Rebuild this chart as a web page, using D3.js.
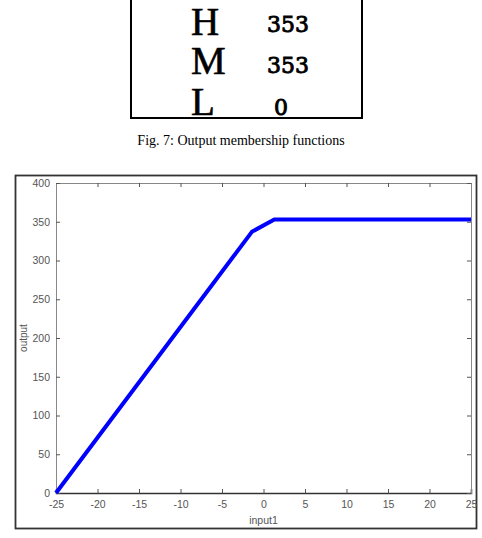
<!DOCTYPE html>
<html>
<head>
<meta charset="utf-8">
<script src="https://cdn.jsdelivr.net/npm/d3@7"></script>
<style>
  body { margin: 0; background: #fff; }
  svg { display: block; }
</style>
</head>
<body>
<div id="chart"></div>
<script>
// membership table (top)
var rules = ['H', 'M', 'L'];
var ruleValues = ['353', '353', '0'];

// curve input1 -> output
var inputVals = [-25, -1.4, 1.3, 25];
var outputVals = [0, 337, 353, 353];

var xTicks = [-25, -20, -15, -10, -5, 0, 5, 10, 15, 20, 25];
var yTicks = [0, 50, 100, 150, 200, 250, 300, 350, 400];

var width = 482, height = 538;
var margin = ({top: 183, right: 11, bottom: 45, left: 56});

var svg = d3.select("#chart")
    .append("svg")
    .attr("width", width)
    .attr("height", height);

// table box
svg.append("rect")
    .attr("x", 131).attr("y", -5)
    .attr("width", 231).attr("height", 123)
    .attr("fill", "none")
    .attr("stroke", "#000")
    .attr("stroke-width", 2);

var rowY = [35, 74, 115];
svg.selectAll(".ruleName")
    .data(rules)
    .enter()
    .append("text")
    .attr("x", 191)
    .attr("y", (d, i) => rowY[i])
    .attr("font-family", "Liberation Serif, Times New Roman, serif")
    .attr("font-size", 39)
    .attr("stroke", "#000")
    .attr("stroke-width", 0.6)
    .text(d => d)
    .classed("ruleName", true);

var valX = [288, 288, 281];
var valY = [32, 73, 115];
svg.selectAll(".ruleVal")
    .data(ruleValues)
    .enter()
    .append("text")
    .attr("x", (d, i) => valX[i])
    .attr("y", (d, i) => valY[i])
    .attr("text-anchor", "middle")
    .attr("font-family", "DejaVu Serif, serif")
    .attr("font-size", 22)
    .attr("stroke", "#000")
    .attr("stroke-width", 0.9)
    .text(d => d)
    .classed("ruleVal", true);

svg.append("text")
    .attr("x", 241)
    .attr("y", 145)
    .attr("text-anchor", "middle")
    .attr("font-family", "Liberation Serif, Times New Roman, serif")
    .attr("font-size", 14)
    .text("Fig. 7: Output membership functions");

// figure frame
svg.append("rect")
    .attr("x", 15.5).attr("y", 175.5)
    .attr("width", 461).attr("height", 353)
    .attr("fill", "none")
    .attr("stroke", "#333")
    .attr("stroke-width", 1.8);

var plotW = width - margin.left - margin.right;
var plotH = 493 - margin.top;

var xScale = d3.scaleLinear().domain([-25, 25]).range([0, plotW]);
var yScale = d3.scaleLinear().domain([0, 400]).range([plotH, 0]);

var plot = svg.append("g")
    .attr("transform", "translate(" + margin.left + "," + margin.top + ")");

// ticks pointing inward on all sides, like matlab
var axFont = "Liberation Sans, Arial, sans-serif";

plot.append("g")
    .attr("transform", "translate(0," + plotH + ")")
    .call(d3.axisBottom(xScale).tickValues(xTicks).tickSize(-4).tickPadding(8).tickFormat(d => String(d)))
    .call(g => g.select(".domain").attr("stroke", "#333").attr("stroke-width", 1.5))
    .attr("font-family", axFont)
    .attr("font-size", 10.5)
    .attr("color", "#555");

plot.append("g")
    .call(d3.axisTop(xScale).tickValues(xTicks).tickSize(-4).tickFormat(""))
    .call(g => g.select(".domain").attr("stroke", "#888"))
    .attr("color", "#555");

plot.append("g")
    .call(d3.axisLeft(yScale).tickValues(yTicks).tickSize(-4).tickPadding(6).tickFormat(d => String(d)))
    .call(g => g.select(".domain").attr("stroke", "#888"))
    .attr("font-family", axFont)
    .attr("font-size", 10.5)
    .attr("color", "#555");

plot.append("g")
    .attr("transform", "translate(" + plotW + ",0)")
    .call(d3.axisRight(yScale).tickValues(yTicks).tickSize(-4).tickFormat(""))
    .call(g => g.select(".domain").attr("stroke", "#888"))
    .attr("color", "#555");

plot.append("text")
    .attr("x", plotW / 2)
    .attr("y", plotH + 31)
    .attr("text-anchor", "middle")
    .attr("font-family", axFont)
    .attr("font-size", 10.5)
    .attr("fill", "#555")
    .text("input1");

plot.append("text")
    .attr("transform", "translate(-29," + (plotH / 2) + ") rotate(-90)")
    .attr("text-anchor", "middle")
    .attr("font-family", axFont)
    .attr("font-size", 10)
    .attr("fill", "#555")
    .text("output");

var line = d3.line()
    .x((d, i) => xScale(d))
    .y((d, i) => yScale(outputVals[i]));

plot.append("path")
    .datum(inputVals)
    .attr("d", line)
    .attr("fill", "none")
    .attr("stroke", "#0000ff")
    .attr("stroke-width", 4)
    .attr("stroke-linejoin", "round");
</script>
</body>
</html>
